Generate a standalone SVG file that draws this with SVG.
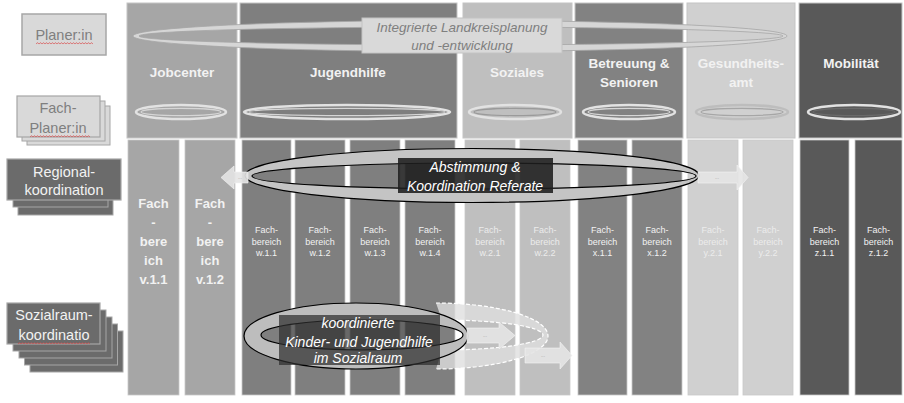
<svg xmlns="http://www.w3.org/2000/svg" width="904" height="403" viewBox="0 0 904 403">
<defs>
<style>
.hdr{stroke:#c4c4c4;stroke-width:1}
.col{stroke:#c8c8c8;stroke-width:0.8}
.ht{font-family:"Liberation Sans",Arial,sans-serif;font-weight:bold;font-size:13.5px;fill:#f2f2f2;text-anchor:middle}
.bt{font-family:"Liberation Sans",Arial,sans-serif;font-weight:bold;font-size:13px;fill:#f2f2f2;text-anchor:middle}
.st{font-family:"Liberation Sans",Arial,sans-serif;font-size:9px;fill:#f2f2f2;text-anchor:middle}
.stl{fill:#ececec}
.lt{font-family:"Liberation Sans",Arial,sans-serif;font-size:14.5px;text-anchor:middle}
.it{font-family:"Liberation Sans",Arial,sans-serif;font-style:italic;font-size:14px;fill:#ffffff;text-anchor:middle}
.ring{fill:none;stroke:#e2e2e2;stroke-width:2.6}
.ringi{fill:none;stroke:#d6d6d6;stroke-width:1.1}
.arr{fill:#e4e4e4;fill-opacity:0.9;stroke:#f4f4f4;stroke-width:0.6}
.dots{font-family:"Liberation Sans",Arial,sans-serif;font-size:5px;fill:#a0a0a0;text-anchor:middle}
.dash{fill:none;stroke:#ffffff;stroke-width:1.2;stroke-dasharray:4 2}
</style>
<pattern id="sq" width="3" height="3" patternUnits="userSpaceOnUse"><path d="M0,2.2 L1.5,0.6 L3,2.2" fill="none" stroke="#d94040" stroke-width="0.7"/></pattern>
</defs>
<rect width="904" height="403" fill="#ffffff"/>

<!-- header blocks -->
<g id="hdr-jobcenter"><rect class="hdr" x="127" y="3" width="110" height="135" fill="#a6a6a6"/><text class="ht" x="182" y="77">Jobcenter</text><ellipse class="ring" cx="181" cy="112" rx="45" ry="7"/><ellipse class="ringi" cx="181" cy="112" rx="40" ry="3.6"/></g>
<g id="hdr-jugendhilfe"><rect class="hdr" x="240" y="3" width="217" height="135" fill="#7f7f7f"/><text class="ht" x="348" y="77">Jugendhilfe</text><ellipse class="ring" cx="347" cy="112" rx="103" ry="7"/><ellipse class="ringi" cx="347" cy="112" rx="98" ry="3.6"/></g>
<g id="hdr-soziales"><rect class="hdr" x="463" y="3" width="109" height="135" fill="#bfbfbf"/><text class="ht" x="517" y="77">Soziales</text><ellipse class="ring" cx="515" cy="112" rx="46" ry="7"/><ellipse class="ringi" cx="515" cy="112" rx="41" ry="3.6" style="stroke:#9a9a9a"/></g>
<g id="hdr-betreuung"><rect class="hdr" x="575" y="3" width="108" height="135" fill="#828282"/><text class="ht" x="629" y="68">Betreuung &amp;</text><text class="ht" x="629" y="87">Senioren</text><ellipse class="ring" cx="629" cy="112" rx="46" ry="7"/><ellipse class="ringi" cx="629" cy="112" rx="41" ry="3.6"/></g>
<g id="hdr-gesundheitsamt"><rect class="hdr" x="687" y="3" width="108" height="135" fill="#d0d0d0"/><text class="ht" x="741" y="68">Gesundheits-</text><text class="ht" x="741" y="87">amt</text><ellipse class="ring" cx="742" cy="112" rx="46" ry="7" style="stroke:#bdbdbd"/><ellipse class="ringi" cx="742" cy="112" rx="41" ry="3.6" style="stroke:#a6a6a6"/></g>
<g id="hdr-mobilitaet"><rect class="hdr" x="799" y="3" width="103" height="135" fill="#595959"/><text class="ht" x="851" y="67.5">Mobilität</text><ellipse class="ring" cx="854" cy="112" rx="46" ry="7"/><ellipse class="ringi" cx="854" cy="112" rx="41" ry="3.6" style="stroke:#6a6a6a"/></g>

<!-- columns -->
<g id="col-v11"><rect class="col" x="128" y="140" width="51" height="255" fill="#a6a6a6"/><text class="bt" x="153.5" y="208">Fach</text><text class="bt" x="153.5" y="227">-</text><text class="bt" x="153.5" y="246">bere</text><text class="bt" x="153.5" y="265">ich</text><text class="bt" x="153.5" y="284">v.1.1</text></g>
<g id="col-v12"><rect class="col" x="185" y="140" width="50" height="255" fill="#a6a6a6"/><text class="bt" x="210" y="208">Fach</text><text class="bt" x="210" y="227">-</text><text class="bt" x="210" y="246">bere</text><text class="bt" x="210" y="265">ich</text><text class="bt" x="210" y="284">v.1.2</text></g>
<g id="col-w11"><rect class="col" x="242" y="140" width="49" height="255" fill="#7f7f7f"/><text class="st" x="266.5" y="233">Fach-</text><text class="st" x="266.5" y="245">bereich</text><text class="st" x="266.5" y="256">w.1.1</text></g>
<g id="col-w12"><rect class="col" x="295" y="140" width="50" height="255" fill="#7f7f7f"/><text class="st" x="320" y="233">Fach-</text><text class="st" x="320" y="245">bereich</text><text class="st" x="320" y="256">w.1.2</text></g>
<g id="col-w13"><rect class="col" x="350" y="140" width="50" height="255" fill="#7f7f7f"/><text class="st" x="375" y="233">Fach-</text><text class="st" x="375" y="245">bereich</text><text class="st" x="375" y="256">w.1.3</text></g>
<g id="col-w14"><rect class="col" x="405" y="140" width="50" height="255" fill="#7f7f7f"/><text class="st" x="430" y="233">Fach-</text><text class="st" x="430" y="245">bereich</text><text class="st" x="430" y="256">w.1.4</text></g>
<g id="col-w21"><rect class="col" x="465" y="140" width="50" height="255" fill="#bfbfbf"/><text class="st stl" x="490" y="233">Fach-</text><text class="st stl" x="490" y="245">bereich</text><text class="st stl" x="490" y="256">w.2.1</text></g>
<g id="col-w22"><rect class="col" x="520" y="140" width="50" height="255" fill="#bfbfbf"/><text class="st stl" x="545" y="233">Fach-</text><text class="st stl" x="545" y="245">bereich</text><text class="st stl" x="545" y="256">w.2.2</text></g>
<g id="col-x11"><rect class="col" x="578" y="140" width="49" height="255" fill="#828282"/><text class="st" x="602.5" y="233">Fach-</text><text class="st" x="602.5" y="245">bereich</text><text class="st" x="602.5" y="256">x.1.1</text></g>
<g id="col-x12"><rect class="col" x="632" y="140" width="50" height="255" fill="#828282"/><text class="st" x="657" y="233">Fach-</text><text class="st" x="657" y="245">bereich</text><text class="st" x="657" y="256">x.1.2</text></g>
<g id="col-y21"><rect class="col" x="688" y="140" width="50" height="255" fill="#d0d0d0"/><text class="st stl" x="713" y="233">Fach-</text><text class="st stl" x="713" y="245">bereich</text><text class="st stl" x="713" y="256">y.2.1</text></g>
<g id="col-y22"><rect class="col" x="743" y="140" width="50" height="255" fill="#d0d0d0"/><text class="st stl" x="768" y="233">Fach-</text><text class="st stl" x="768" y="245">bereich</text><text class="st stl" x="768" y="256">y.2.2</text></g>
<g id="col-z11"><rect class="col" x="800" y="140" width="49" height="255" fill="#595959"/><text class="st" x="824.5" y="233">Fach-</text><text class="st" x="824.5" y="245">bereich</text><text class="st" x="824.5" y="256">z.1.1</text></g>
<g id="col-z12"><rect class="col" x="855" y="140" width="47" height="255" fill="#595959"/><text class="st" x="878.5" y="233">Fach-</text><text class="st" x="878.5" y="245">bereich</text><text class="st" x="878.5" y="256">z.1.2</text></g>

<!-- left legend -->
<g id="lbl-planer"><rect x="22" y="14" width="84" height="41" fill="#d9d9d9" stroke="#a6a6a6" stroke-width="1.5"/><text class="lt" x="64" y="40" fill="#7f7f7f">Planer:in</text><rect x="36" y="42" width="57" height="3" fill="url(#sq)"/></g>
<g id="lbl-fachplaner"><rect x="27" y="106" width="83" height="39" fill="#d9d9d9" stroke="#a6a6a6" stroke-width="1"/><rect x="22" y="101" width="83" height="40" fill="#d9d9d9" stroke="#a6a6a6" stroke-width="1"/><rect x="17" y="96" width="83" height="41" fill="#d9d9d9" stroke="#a6a6a6" stroke-width="1.2"/><text class="lt" x="58" y="113" fill="#7f7f7f">Fach-</text><text class="lt" x="58" y="133" fill="#7f7f7f">Planer:in</text><rect x="30" y="135" width="60" height="3" fill="url(#sq)"/></g>
<g id="lbl-regional"><rect x="18" y="172" width="95" height="43" fill="#6b6b6b" stroke="#a6a6a6" stroke-width="1"/><rect x="13" y="165" width="95" height="42" fill="#6b6b6b" stroke="#a6a6a6" stroke-width="1"/><rect x="7" y="159" width="114" height="41" fill="#6b6b6b" stroke="#a6a6a6" stroke-width="1.2"/><text class="lt" x="64" y="177" fill="#f2f2f2">Regional-</text><text class="lt" x="64" y="195" fill="#f2f2f2">koordination</text></g>
<g id="lbl-sozialraum"><rect x="30" y="331" width="93" height="41" fill="#6b6b6b" stroke="#a6a6a6" stroke-width="1"/><rect x="24.5" y="324" width="93" height="41" fill="#6b6b6b" stroke="#a6a6a6" stroke-width="1"/><rect x="19" y="317" width="93" height="41" fill="#6b6b6b" stroke="#a6a6a6" stroke-width="1"/><rect x="13" y="310" width="93" height="41" fill="#6b6b6b" stroke="#a6a6a6" stroke-width="1"/><rect x="7" y="303" width="93" height="41" fill="#6b6b6b" stroke="#a6a6a6" stroke-width="1.2"/><text class="lt" x="54" y="320" fill="#f2f2f2">Sozialraum-</text><text class="lt" x="54" y="340" fill="#f2f2f2">koordinatio</text><rect x="18" y="342" width="72" height="3" fill="url(#sq)"/></g>

<!-- Integrierte Landkreisplanung -->
<g id="ring-landkreis">
<path d="M133,36 A327,15.5 0 1 0 787,36 A327,15.5 0 1 0 133,36 Z M139,36 A322,9 0 1 1 783,36 A322,9 0 1 1 139,36 Z" fill="#d6d6d6" fill-rule="evenodd" stroke="#a6a6a6" stroke-width="0.8"/>
<rect x="362" y="18" width="200" height="35" fill="#d9d9d9" stroke="#c4c4c4" stroke-width="1"/>
<text x="462" y="32" font-family="Liberation Sans, Arial, sans-serif" font-style="italic" font-size="13.5" fill="#7f7f7f" text-anchor="middle">Integrierte Landkreisplanung</text>
<text x="462" y="50" font-family="Liberation Sans, Arial, sans-serif" font-style="italic" font-size="13.5" fill="#7f7f7f" text-anchor="middle">und -entwicklung</text>
</g>

<!-- Abstimmung & Koordination Referate -->
<g id="ring-abstimmung">
<path d="M245,175.5 A227,27 0 1 0 699,175.5 A227,27 0 1 0 245,175.5 Z M252,176 A222,13 0 1 1 696,176 A222,13 0 1 1 252,176 Z" fill="#c4c4c4" fill-rule="evenodd" stroke="#000000" stroke-width="1.2"/>
<rect x="398" y="158" width="155" height="35" fill="#1e1e1e" fill-opacity="0.88"/>
<text class="it" x="475" y="172">Abstimmung &amp;</text>
<text class="it" x="475" y="191">Koordination Referate</text>
</g>

<!-- koordinierte Kinder- und Jugendhilfe -->
<g id="ring-kinderjugend">
<path d="M436,303 A112,33 0 0 1 436,369 L442,350 A101,15 0 0 0 442,320 Z" fill="#dedede" fill-opacity="0.8"/>
<path class="dash" d="M436,303 A112,33 0 0 1 436,369"/>
<path class="dash" d="M442,320 A101,15 0 0 1 442,350"/>
<path d="M244,336 A112,33 0 1 0 468,336 A112,33 0 1 0 244,336 Z M261,335 A101,15 0 1 1 463,335 A101,15 0 1 1 261,335 Z" fill="#bdbdbd" fill-rule="evenodd" stroke="#000000" stroke-width="1.2"/>
<rect x="279" y="315" width="161" height="50" fill="#2e2e2e" fill-opacity="0.72"/>
<text class="it" x="358" y="328">koordinierte</text>
<text class="it" x="359" y="347">Kinder- und Jugendhilfe</text>
<text class="it" x="358" y="363">im Sozialraum</text>
</g>

<!-- connectors -->
<g id="connectors">
<path class="arr" d="M248,172 L234,172 L234,166 L221,177.5 L234,189 L234,183 L248,183 Z"/><text class="dots" x="240" y="179">...</text>
<path class="arr" d="M698,172 L737,172 L737,165 L748,177.5 L737,190 L737,183 L698,183 Z"/><text class="dots" x="717" y="179">...</text>
<path class="arr" d="M467,328 L499,328 L499,322 L515,335.5 L499,349 L499,343 L467,343 Z"/><text class="dots" x="485" y="337">...</text>
<path class="arr" d="M525,348 L560,348 L560,342 L572,355.5 L560,369 L560,363 L525,363 Z"/><text class="dots" x="543" y="357">...</text>
</g>
</svg>
